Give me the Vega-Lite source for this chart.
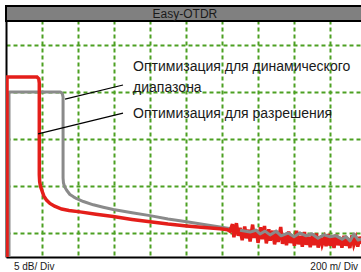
{
  "$schema": "https://vega.github.io/schema/vega-lite/v6.json",
  "width": 355,
  "height": 251,
  "autosize": {"type": "none"},
  "padding": {"left": 6, "top": 6, "right": 0, "bottom": 15},
  "background": "white",
  "config": {"view": {"stroke": null}},
  "datasets": {
    "traces": [
      {"series": "gray", "i": 0, "dist": 16.7, "db": 0},
      {"series": "gray", "i": 1, "dist": 16.7, "db": 34.8},
      {"series": "gray", "i": 2, "dist": 19, "db": 35.1},
      {"series": "gray", "i": 3, "dist": 302, "db": 35.1},
      {"series": "gray", "i": 4, "dist": 313, "db": 34.8},
      {"series": "gray", "i": 5, "dist": 317, "db": 34.0},
      {"series": "gray", "i": 6, "dist": 317, "db": 16.8},
      {"series": "gray", "i": 7, "dist": 319, "db": 15.8},
      {"series": "gray", "i": 8, "dist": 325, "db": 15.0},
      {"series": "gray", "i": 9, "dist": 337, "db": 14.2},
      {"series": "gray", "i": 10, "dist": 355, "db": 13.3},
      {"series": "gray", "i": 11, "dist": 375, "db": 12.8},
      {"series": "gray", "i": 12, "dist": 393, "db": 12.4},
      {"series": "gray", "i": 13, "dist": 430, "db": 11.8},
      {"series": "gray", "i": 14, "dist": 485, "db": 11.1},
      {"series": "gray", "i": 15, "dist": 540, "db": 10.6},
      {"series": "gray", "i": 16, "dist": 596, "db": 10.1},
      {"series": "gray", "i": 17, "dist": 700, "db": 9.4},
      {"series": "gray", "i": 18, "dist": 800, "db": 8.8},
      {"series": "gray", "i": 19, "dist": 900, "db": 8.1},
      {"series": "gray", "i": 20, "dist": 1004, "db": 7.5},
      {"series": "gray", "i": 21, "dist": 1100, "db": 6.9},
      {"series": "gray", "i": 22, "dist": 1189, "db": 6.4},
      {"series": "gray", "i": 23, "dist": 1250, "db": 6.0},
      {"series": "gray", "i": 24, "dist": 1300, "db": 5.7},
      {"series": "gray", "i": 25, "dist": 1356, "db": 5.3},
      {"series": "gray", "i": 26, "dist": 1389, "db": 5.7},
      {"series": "gray", "i": 27, "dist": 1411, "db": 4.9},
      {"series": "gray", "i": 28, "dist": 1439, "db": 5.5},
      {"series": "gray", "i": 29, "dist": 1467, "db": 4.7},
      {"series": "gray", "i": 30, "dist": 1500, "db": 5.5},
      {"series": "gray", "i": 31, "dist": 1528, "db": 4.5},
      {"series": "gray", "i": 32, "dist": 1567, "db": 5.1},
      {"series": "gray", "i": 33, "dist": 1600, "db": 4.3},
      {"series": "gray", "i": 34, "dist": 1633, "db": 5.1},
      {"series": "gray", "i": 35, "dist": 1667, "db": 4.5},
      {"series": "gray", "i": 36, "dist": 1700, "db": 4.9},
      {"series": "gray", "i": 37, "dist": 1733, "db": 4.0},
      {"series": "gray", "i": 38, "dist": 1767, "db": 4.7},
      {"series": "gray", "i": 39, "dist": 1800, "db": 4.3},
      {"series": "gray", "i": 40, "dist": 1833, "db": 4.5},
      {"series": "gray", "i": 41, "dist": 1867, "db": 3.8},
      {"series": "gray", "i": 42, "dist": 1889, "db": 4.3},
      {"series": "gray", "i": 43, "dist": 1911, "db": 3.4},
      {"series": "gray", "i": 44, "dist": 1933, "db": 4.9},
      {"series": "gray", "i": 45, "dist": 1956, "db": 3.6},
      {"series": "gray", "i": 46, "dist": 1975, "db": 3.8},
      {"series": "red", "i": 0, "dist": 5.6, "db": 0},
      {"series": "red", "i": 1, "dist": 5.6, "db": 38.0},
      {"series": "red", "i": 2, "dist": 8, "db": 38.3},
      {"series": "red", "i": 3, "dist": 172, "db": 38.3},
      {"series": "red", "i": 4, "dist": 182, "db": 37.9},
      {"series": "red", "i": 5, "dist": 185, "db": 37.0},
      {"series": "red", "i": 6, "dist": 185, "db": 17.5},
      {"series": "red", "i": 7, "dist": 187, "db": 16.0},
      {"series": "red", "i": 8, "dist": 192, "db": 15.0},
      {"series": "red", "i": 9, "dist": 198, "db": 14.3},
      {"series": "red", "i": 10, "dist": 210, "db": 13.0},
      {"series": "red", "i": 11, "dist": 225, "db": 12.1},
      {"series": "red", "i": 12, "dist": 244, "db": 11.4},
      {"series": "red", "i": 13, "dist": 270, "db": 10.8},
      {"series": "red", "i": 14, "dist": 309, "db": 10.2},
      {"series": "red", "i": 15, "dist": 350, "db": 9.9},
      {"series": "red", "i": 16, "dist": 411, "db": 9.6},
      {"series": "red", "i": 17, "dist": 500, "db": 9.1},
      {"series": "red", "i": 18, "dist": 596, "db": 8.6},
      {"series": "red", "i": 19, "dist": 700, "db": 8.0},
      {"series": "red", "i": 20, "dist": 800, "db": 7.5},
      {"series": "red", "i": 21, "dist": 900, "db": 7.0},
      {"series": "red", "i": 22, "dist": 1004, "db": 6.6},
      {"series": "red", "i": 23, "dist": 1100, "db": 6.3},
      {"series": "red", "i": 24, "dist": 1189, "db": 6.0},
      {"series": "red", "i": 25, "dist": 1230, "db": 5.8},
      {"series": "red", "i": 26, "dist": 1244, "db": 5.5},
      {"series": "red", "i": 27, "dist": 1258, "db": 7.0},
      {"series": "red", "i": 28, "dist": 1266, "db": 4.2},
      {"series": "red", "i": 29, "dist": 1280, "db": 7.2},
      {"series": "red", "i": 30, "dist": 1290, "db": 4.5},
      {"series": "red", "i": 31, "dist": 1300, "db": 6.2},
      {"series": "red", "i": 32, "dist": 1312, "db": 3.6},
      {"series": "red", "i": 33, "dist": 1326, "db": 6.5},
      {"series": "red", "i": 34, "dist": 1335, "db": 4.0},
      {"series": "red", "i": 35, "dist": 1348, "db": 5.8},
      {"series": "red", "i": 36, "dist": 1356, "db": 3.3},
      {"series": "red", "i": 37, "dist": 1370, "db": 6.9},
      {"series": "red", "i": 38, "dist": 1378, "db": 4.1},
      {"series": "red", "i": 39, "dist": 1392, "db": 5.5},
      {"series": "red", "i": 40, "dist": 1400, "db": 3.0},
      {"series": "red", "i": 41, "dist": 1414, "db": 6.3},
      {"series": "red", "i": 42, "dist": 1424, "db": 3.8},
      {"series": "red", "i": 43, "dist": 1436, "db": 6.6},
      {"series": "red", "i": 44, "dist": 1446, "db": 2.9},
      {"series": "red", "i": 45, "dist": 1460, "db": 5.9},
      {"series": "red", "i": 46, "dist": 1468, "db": 3.5},
      {"series": "red", "i": 47, "dist": 1482, "db": 5.6},
      {"series": "red", "i": 48, "dist": 1492, "db": 2.7},
      {"series": "red", "i": 49, "dist": 1504, "db": 5.0},
      {"series": "red", "i": 50, "dist": 1512, "db": 3.2},
      {"series": "red", "i": 51, "dist": 1526, "db": 6.4},
      {"series": "red", "i": 52, "dist": 1536, "db": 2.8},
      {"series": "red", "i": 53, "dist": 1548, "db": 4.9},
      {"series": "red", "i": 54, "dist": 1558, "db": 2.5},
      {"series": "red", "i": 55, "dist": 1570, "db": 5.4},
      {"series": "red", "i": 56, "dist": 1580, "db": 3.0},
      {"series": "red", "i": 57, "dist": 1592, "db": 4.6},
      {"series": "red", "i": 58, "dist": 1602, "db": 2.4},
      {"series": "red", "i": 59, "dist": 1614, "db": 5.6},
      {"series": "red", "i": 60, "dist": 1624, "db": 2.7},
      {"series": "red", "i": 61, "dist": 1636, "db": 4.5},
      {"series": "red", "i": 62, "dist": 1646, "db": 2.2},
      {"series": "red", "i": 63, "dist": 1658, "db": 5.3},
      {"series": "red", "i": 64, "dist": 1668, "db": 2.6},
      {"series": "red", "i": 65, "dist": 1680, "db": 4.3},
      {"series": "red", "i": 66, "dist": 1690, "db": 2.1},
      {"series": "red", "i": 67, "dist": 1702, "db": 4.6},
      {"series": "red", "i": 68, "dist": 1712, "db": 2.5},
      {"series": "red", "i": 69, "dist": 1724, "db": 5.0},
      {"series": "red", "i": 70, "dist": 1734, "db": 2.0},
      {"series": "red", "i": 71, "dist": 1746, "db": 4.4},
      {"series": "red", "i": 72, "dist": 1756, "db": 2.6},
      {"series": "red", "i": 73, "dist": 1768, "db": 4.0},
      {"series": "red", "i": 74, "dist": 1778, "db": 2.3},
      {"series": "red", "i": 75, "dist": 1790, "db": 4.9},
      {"series": "red", "i": 76, "dist": 1800, "db": 2.4},
      {"series": "red", "i": 77, "dist": 1812, "db": 4.2},
      {"series": "red", "i": 78, "dist": 1822, "db": 1.9},
      {"series": "red", "i": 79, "dist": 1834, "db": 4.7},
      {"series": "red", "i": 80, "dist": 1844, "db": 2.5},
      {"series": "red", "i": 81, "dist": 1856, "db": 4.1},
      {"series": "red", "i": 82, "dist": 1866, "db": 2.0},
      {"series": "red", "i": 83, "dist": 1878, "db": 4.5},
      {"series": "red", "i": 84, "dist": 1888, "db": 2.4},
      {"series": "red", "i": 85, "dist": 1900, "db": 3.9},
      {"series": "red", "i": 86, "dist": 1910, "db": 1.9},
      {"series": "red", "i": 87, "dist": 1922, "db": 4.6},
      {"series": "red", "i": 88, "dist": 1932, "db": 2.6},
      {"series": "red", "i": 89, "dist": 1944, "db": 4.0},
      {"series": "red", "i": 90, "dist": 1954, "db": 2.2},
      {"series": "red", "i": 91, "dist": 1966, "db": 4.3},
      {"series": "red", "i": 92, "dist": 1976, "db": 2.8}
    ],
    "pointers": [
      {"x1": 328, "y1": 33.6, "x2": 650, "y2": 36.6},
      {"x1": 178, "y1": 26.2, "x2": 650, "y2": 30.6}
    ],
    "notes": [
      {"label": "Оптимизация для динамического", "x": 706, "y": 39.6},
      {"label": "диапазона", "x": 706, "y": 35.2},
      {"label": "Оптимизация для разрешения", "x": 706, "y": 29.6}
    ],
    "footerLeft": [
      {"label": "5 dB/ Div", "x": 44, "y": -2.8}
    ],
    "footerRight": [
      {"label": "200 m/ Div", "x": 1956, "y": -2.8}
    ],
    "header": [
      {"label": "Easy-OTDR", "x": 0, "x2": 2000, "y": 50.2, "y2": 53.4, "xm": 994, "ym": 51.75}
    ]
  },
  "layer": [
    {
      "data": {"name": "traces"},
      "transform": [{"filter": "datum.series === 'gray'"}],
      "mark": {"type": "line", "color": "#8a8a8a", "strokeWidth": 3, "strokeJoin": "round", "clip": true},
      "encoding": {
        "x": {
          "field": "dist", "type": "quantitative",
          "scale": {"domain": [0, 1972], "nice": false, "zero": false},
          "axis": {"values": [200, 400, 600, 800, 1000, 1200, 1400, 1600, 1800], "grid": true, "labels": false, "ticks": false, "title": null,
                   "domainColor": "black", "domainWidth": 2, "gridColor": "#4ca022", "gridWidth": 2, "gridDash": [4, 3], "gridOpacity": 1}
        },
        "y": {
          "field": "db", "type": "quantitative",
          "scale": {"domain": [0, 53.4], "nice": false, "zero": false},
          "axis": {"values": [5, 10, 15, 20, 25, 30, 35, 40, 45], "grid": true, "labels": false, "ticks": false, "title": null,
                   "domainColor": "black", "domainWidth": 2, "gridColor": "#4ca022", "gridWidth": 2, "gridDash": [4, 3], "gridOpacity": 1}
        },
        "order": {"field": "i", "type": "quantitative"}
      }
    },
    {
      "data": {"name": "traces"},
      "transform": [{"filter": "datum.series === 'red'"}],
      "mark": {"type": "line", "color": "#e41e1a", "strokeWidth": 3.5, "strokeJoin": "miter", "clip": true},
      "encoding": {
        "x": {"field": "dist", "type": "quantitative"},
        "y": {"field": "db", "type": "quantitative"},
        "order": {"field": "i", "type": "quantitative"}
      }
    },
    {
      "data": {"name": "traces"},
      "transform": [{"filter": "datum.series === 'gray' && datum.dist >= 1300"}],
      "mark": {"type": "line", "color": "#8a8a8a", "strokeWidth": 3, "strokeJoin": "round", "clip": true},
      "encoding": {
        "x": {"field": "dist", "type": "quantitative"},
        "y": {"field": "db", "type": "quantitative"},
        "order": {"field": "i", "type": "quantitative"}
      }
    },
    {
      "data": {"name": "pointers"},
      "mark": {"type": "rule", "color": "black", "strokeWidth": 1.2},
      "encoding": {
        "x": {"field": "x1", "type": "quantitative"},
        "y": {"field": "y1", "type": "quantitative"},
        "x2": {"field": "x2"},
        "y2": {"field": "y2"}
      }
    },
    {
      "data": {"name": "notes"},
      "mark": {"type": "text", "align": "left", "baseline": "alphabetic", "font": "Liberation Sans, Arial, sans-serif", "fontSize": 14, "color": "#1a1a1a"},
      "encoding": {
        "x": {"field": "x", "type": "quantitative"},
        "y": {"field": "y", "type": "quantitative"},
        "text": {"field": "label"}
      }
    },
    {
      "data": {"name": "header"},
      "mark": {"type": "rect", "fill": "#808080", "stroke": "black", "strokeWidth": 2},
      "encoding": {
        "x": {"field": "x", "type": "quantitative"},
        "x2": {"field": "x2"},
        "y": {"field": "y", "type": "quantitative"},
        "y2": {"field": "y2"}
      }
    },
    {
      "data": {"name": "header"},
      "mark": {"type": "text", "align": "center", "baseline": "middle", "font": "Liberation Sans, Arial, sans-serif", "fontSize": 12, "color": "#1a1a1a"},
      "encoding": {
        "x": {"field": "xm", "type": "quantitative"},
        "y": {"field": "ym", "type": "quantitative"},
        "text": {"field": "label"}
      }
    },
    {
      "mark": {"type": "rule", "color": "black", "strokeWidth": 2},
      "encoding": {
        "x": {"datum": 0, "type": "quantitative"},
        "y": {"datum": -3.6, "type": "quantitative"},
        "y2": {"datum": 53.4}
      }
    },
    {
      "data": {"name": "footerLeft"},
      "mark": {"type": "text", "align": "left", "baseline": "alphabetic", "font": "Liberation Sans, Arial, sans-serif", "fontSize": 10, "color": "#1a1a1a"},
      "encoding": {
        "x": {"field": "x", "type": "quantitative"},
        "y": {"field": "y", "type": "quantitative"},
        "text": {"field": "label"}
      }
    },
    {
      "data": {"name": "footerRight"},
      "mark": {"type": "text", "align": "right", "baseline": "alphabetic", "font": "Liberation Sans, Arial, sans-serif", "fontSize": 10, "color": "#1a1a1a"},
      "encoding": {
        "x": {"field": "x", "type": "quantitative"},
        "y": {"field": "y", "type": "quantitative"},
        "text": {"field": "label"}
      }
    }
  ]
}
